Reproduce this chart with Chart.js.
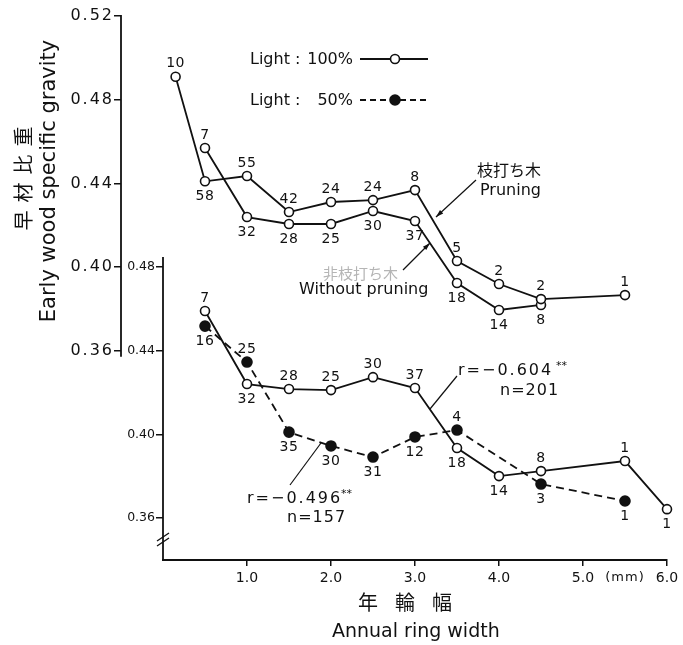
<!DOCTYPE html>
<html>
<head>
<meta charset="utf-8">
<script src="https://cdn.jsdelivr.net/npm/chart.js@4.4.0/dist/chart.umd.min.js"></script>
<style>
  html, body { margin: 0; padding: 0; background: #fff; }
</style>
</head>
<body>
<canvas id="myChart" width="683" height="645"></canvas>
<script>
// Annual ring width (mm), early wood specific gravity, number of samples
const widthPruning = [0.15, 0.5, 1.0, 1.5, 2.0, 2.5, 3.0, 3.5, 4.0, 4.5, 5.5];
const sgPruning = [0.491, 0.441, 0.4435, 0.4263, 0.4311, 0.432, 0.4368, 0.4029, 0.3919, 0.3847, 0.3866];
const nPruning = [10, 58, 55, 42, 24, 24, 8, 5, 2, 2, 1];

const widthNoPruning = [0.5, 1.0, 1.5, 2.0, 2.5, 3.0, 3.5, 4.0, 4.5];
const sgNoPruning = [0.4569, 0.4239, 0.4206, 0.4206, 0.4268, 0.422, 0.3924, 0.3795, 0.3819];
const nNoPruning = [7, 32, 28, 25, 30, 37, 18, 14, 8];

const widthLight100 = [0.5, 1.0, 1.5, 2.0, 2.5, 3.0, 3.5, 4.0, 4.5, 5.5, 6.0];
const sgLight100 = [0.459, 0.4241, 0.4217, 0.4212, 0.4274, 0.4222, 0.3935, 0.3801, 0.3825, 0.3873, 0.3643];
const nLight100 = [7, 32, 28, 25, 30, 37, 18, 14, 8, 1, 1];

const widthLight50 = [0.5, 1.0, 1.5, 2.0, 2.5, 3.0, 3.5, 4.5, 5.5];
const sgLight50 = [0.4518, 0.4346, 0.4011, 0.3945, 0.3892, 0.3988, 0.4021, 0.3763, 0.3682];
const nLight50 = [16, 25, 35, 30, 31, 12, 4, 3, 1];

const xTicks = [1, 2, 3, 4, 5, 6];
const yTicksTop = [0.36, 0.40, 0.44, 0.48, 0.52];
const yTicksBottom = [0.36, 0.40, 0.44, 0.48];

// where the sample count sits: a = above the point, b = below
const sidePruning = ['a', 'b', 'a', 'a', 'a', 'a', 'a', 'a', 'a', 'a', 'a'];
const sideNoPruning = ['a', 'b', 'b', 'b', 'b', 'b', 'b', 'b', 'b'];
const sideLight100 = ['a', 'b', 'a', 'a', 'a', 'a', 'b', 'b', 'a', 'a', 'b'];
const sideLight50 = ['b', 'a', 'b', 'b', 'b', 'b', 'a', 'b', 'b'];

const INK = '#111';
const LATIN = 'DejaVu Sans';
const CJK = '"Noto Sans CJK JP"';

const toPoints = (xs, ys) => xs.map((x, i) => ({ x: x, y: ys[i] }));

const makeSet = (xs, ys, axis, filled, dashed) => ({
  data: toPoints(xs, ys),
  yAxisID: axis,
  borderColor: INK,
  borderWidth: 1.8,
  borderDash: dashed ? [8, 5] : [],
  pointRadius: filled ? 5 : 4.5,
  pointBorderWidth: 1.6,
  pointBorderColor: INK,
  pointBackgroundColor: filled ? INK : '#fff',
  tension: 0,
  clip: false,
});

// count labels, same order as the datasets
const labelSets = [
  [nPruning, sidePruning],
  [nNoPruning, sideNoPruning],
  [nLight50, sideLight50],
  [nLight100, sideLight100],
];

const text = (ctx, str, x, y, font, opts = {}) => {
  ctx.save();
  ctx.font = font;
  ctx.fillStyle = opts.color || INK;
  ctx.textAlign = opts.align || 'left';
  ctx.textBaseline = opts.baseline || 'alphabetic';
  ctx.letterSpacing = opts.spacing || '0px';
  ctx.fillText(str, x, y);
  ctx.restore();
};

const line = (ctx, x1, y1, x2, y2, w, dash) => {
  ctx.save();
  ctx.strokeStyle = INK;
  ctx.lineWidth = w || 1.3;
  ctx.setLineDash(dash || []);
  ctx.beginPath();
  ctx.moveTo(x1, y1);
  ctx.lineTo(x2, y2);
  ctx.stroke();
  ctx.restore();
};

const arrow = (ctx, x1, y1, x2, y2) => {
  line(ctx, x1, y1, x2, y2, 1.2);
  const a = Math.atan2(y2 - y1, x2 - x1);
  ctx.save();
  ctx.fillStyle = INK;
  ctx.beginPath();
  ctx.moveTo(x2, y2);
  ctx.lineTo(x2 - 8 * Math.cos(a - 0.3), y2 - 8 * Math.sin(a - 0.3));
  ctx.lineTo(x2 - 8 * Math.cos(a + 0.3), y2 - 8 * Math.sin(a + 0.3));
  ctx.closePath();
  ctx.fill();
  ctx.restore();
};

const marker = (ctx, x, y, filled) => {
  ctx.save();
  ctx.lineWidth = 1.6;
  ctx.strokeStyle = INK;
  ctx.fillStyle = filled ? INK : '#fff';
  ctx.beginPath();
  ctx.arc(x, y, filled ? 5 : 4.5, 0, Math.PI * 2);
  ctx.fill();
  ctx.stroke();
  ctx.restore();
};

const chartLabels = {
  id: 'chartLabels',
  afterDatasetsDraw(chart) {
    const ctx = chart.ctx;
    labelSets.forEach(([counts, sides], i) => {
      const meta = chart.getDatasetMeta(i);
      meta.data.forEach((pt, j) => {
        const dy = sides[j] === 'a' ? -13 : 15;
        text(ctx, String(counts[j]), pt.x, pt.y + dy, `14px ${LATIN}`,
          { align: 'center', baseline: 'middle', spacing: '0.5px' });
      });
    });
  },
  afterDraw(chart) {
    const ctx = chart.ctx;
    const yTop = chart.scales.y;
    const yBot = chart.scales.y2;
    const area = chart.chartArea;

    // upper axis (short one)
    const ax = yTop.right;
    line(ctx, ax, yTop.getPixelForValue(0.52) - 1, ax, yTop.getPixelForValue(0.36) + 6, 1.8);
    yTicksTop.forEach((v) => {
      text(ctx, v.toFixed(2), ax - 7, yTop.getPixelForValue(v), `16px ${LATIN}`,
        { align: 'right', baseline: 'middle', spacing: '2px' });
    });

    // lower axis with break marks
    const bx = area.left;
    line(ctx, bx, yBot.getPixelForValue(0.48) - 10, bx, area.bottom, 1.8);
    line(ctx, bx - 6, 541, bx + 6, 533, 1.4);
    line(ctx, bx - 6, 546, bx + 6, 538, 1.4);

    // axis titles
    ctx.save();
    ctx.translate(55, 181);
    ctx.rotate(-Math.PI / 2);
    text(ctx, 'Early wood specific gravity', 0, 0, `21px ${LATIN}`, { align: 'center' });
    ctx.restore();
    ctx.save();
    ctx.translate(23, 174.5);
    ctx.rotate(-Math.PI / 2);
    text(ctx, '早材比重', 0, 0, `20px ${CJK}`, { align: 'center', baseline: 'middle', spacing: '8px' });
    ctx.restore();

    text(ctx, '(mm)', 625, 578, `13px ${LATIN}`, { align: 'center', baseline: 'middle', spacing: '1px' });
    text(ctx, '年輪幅', 358, 602, `20px ${CJK}`, { baseline: 'middle', spacing: '17px' });
    text(ctx, 'Annual ring width', 332, 637, `19px ${LATIN}`);

    // legend
    text(ctx, 'Light :', 250, 64, `16px ${LATIN}`);
    text(ctx, '100%', 353, 64, `16px ${LATIN}`, { align: 'right' });
    line(ctx, 360, 59, 428, 59, 1.8);
    marker(ctx, 395, 59, false);
    text(ctx, 'Light :', 250, 105, `16px ${LATIN}`);
    text(ctx, '50%', 353, 105, `16px ${LATIN}`, { align: 'right' });
    line(ctx, 360, 100, 428, 100, 1.8, [6, 4]);
    marker(ctx, 395, 100, true);

    // pruning notes
    text(ctx, '枝打ち木', 477, 170, `16px ${CJK}`, { baseline: 'middle' });
    text(ctx, 'Pruning', 480, 195, `16px ${LATIN}`);
    arrow(ctx, 476, 180, 436, 217);
    text(ctx, '非枝打ち木', 323, 273, `15px ${CJK}`, { baseline: 'middle', color: '#b5b5b5' });
    text(ctx, 'Without pruning', 299, 294, `16px ${LATIN}`);
    arrow(ctx, 403, 270, 430, 243);

    // correlation notes
    text(ctx, 'r=−0.604', 458, 375, `16px ${LATIN}`, { spacing: '2px' });
    text(ctx, '**', 556, 369, `11px ${LATIN}`);
    text(ctx, 'n=201', 500, 395, `16px ${LATIN}`, { spacing: '1px' });
    line(ctx, 457, 376, 430, 409, 1.2);

    text(ctx, 'r=−0.496', 247, 503, `16px ${LATIN}`, { spacing: '2px' });
    text(ctx, '**', 341, 497, `11px ${LATIN}`);
    text(ctx, 'n=157', 287, 522, `16px ${LATIN}`, { spacing: '1px' });
    line(ctx, 290, 485, 321, 443, 1.2);
  },
};

const ctx = document.getElementById('myChart').getContext('2d');

const chart = new Chart(ctx, {
  type: 'line',
  data: {
    datasets: [
      makeSet(widthPruning, sgPruning, 'y', false, false),
      makeSet(widthNoPruning, sgNoPruning, 'y', false, false),
      makeSet(widthLight50, sgLight50, 'y2', true, true),
      makeSet(widthLight100, sgLight100, 'y2', false, false),
    ],
  },
  options: {
    responsive: false,
    devicePixelRatio: 1,
    animation: false,
    layout: { padding: { top: 16, right: 16, left: 0, bottom: 0 } },
    plugins: {
      legend: { display: false },
      tooltip: { enabled: false },
    },
    scales: {
      x: {
        type: 'linear',
        position: 'bottom',
        min: 0,
        max: 6,
        afterFit: (s) => { s.height = 85; },
        afterBuildTicks: (s) => { s.ticks = xTicks.map((v) => ({ value: v })); },
        ticks: {
          callback: (v) => v.toFixed(1),
          font: { family: LATIN, size: 14 },
          color: INK,
          padding: 4,
          maxRotation: 0,
          autoSkip: false,
        },
        grid: { drawOnChartArea: false, tickLength: 6, color: INK, lineWidth: 1.5 },
        border: { display: true, color: INK, width: 2 },
      },
      y: {
        type: 'linear',
        position: 'left',
        weight: 1,
        min: 0.26,
        max: 0.52,
        afterFit: (s) => { s.width = 121; },
        afterBuildTicks: (s) => { s.ticks = yTicksTop.map((v) => ({ value: v })); },
        ticks: { display: false },
        grid: { drawOnChartArea: false, tickLength: 7, color: INK, lineWidth: 1.5 },
        border: { display: false },
      },
      y2: {
        type: 'linear',
        position: 'left',
        weight: 0,
        min: 0.34,
        max: 0.60,
        afterFit: (s) => { s.width = 42; },
        afterBuildTicks: (s) => { s.ticks = yTicksBottom.map((v) => ({ value: v })); },
        ticks: {
          callback: (v) => v.toFixed(2),
          font: { family: LATIN, size: 12.5 },
          color: INK,
          padding: 1,
        },
        grid: { drawOnChartArea: false, tickLength: 7, color: INK, lineWidth: 1.5 },
        border: { display: false },
      },
    },
  },
  plugins: [chartLabels],
});
</script>
</body>
</html>
